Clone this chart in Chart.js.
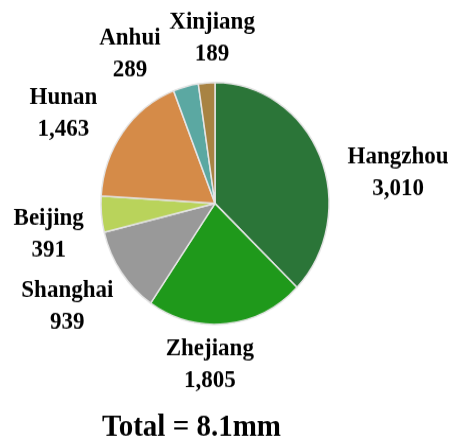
<!DOCTYPE html>
<html>
<head>
<meta charset="utf-8">
<title>Total = 8.1mm</title>
<script src="https://cdn.jsdelivr.net/npm/chart.js@4/dist/chart.umd.min.js"></script>
<style>
  html, body { margin: 0; padding: 0; background: #fff; }
  #box { width: 451px; height: 439px; position: relative; overflow: hidden; }
  #wrap { position: absolute; left: 0; top: 0; width: 451px; height: 414px; transform: scaleY(1.0604); transform-origin: 0 0; }
</style>
</head>
<body>
<!-- drawn at 414 high, shown a little taller like the original export -->
<div id="box"><div id="wrap"><canvas id="pie" width="451" height="414"></canvas></div></div>
<script>
// slices, clockwise from 12 o'clock
var regions = ['Hangzhou', 'Zhejiang', 'Shanghai', 'Beijing', 'Hunan', 'Anhui', 'Xinjiang'];
var values = [3010, 1805, 939, 391, 1463, 289, 189];
var colors = ['#2b7538', '#1f991b', '#999999', '#b9d35b', '#d58b48', '#5ba8a2', '#a88343'];
var totalLabel = 'Total = 8.1mm';

var fmt = function (v) { return v.toLocaleString('en-US'); };

// name + value above/beside each slice
var sliceLabels = {
    id: 'sliceLabels',
    afterDatasetsDraw: function (chart, args, opts) {
        var ctx = chart.ctx;
        var meta = chart.getDatasetMeta(0);
        ctx.save();
        ctx.font = opts.font;
        ctx.fillStyle = opts.color;
        ctx.textAlign = 'center';
        ctx.textBaseline = 'middle';
        meta.data.forEach(function (arc, i) {
            var p = arc.getProps(['x', 'y', 'startAngle', 'endAngle', 'outerRadius'], true);
            var mid = (p.startAngle + p.endAngle) / 2;
            var d = p.outerRadius + opts.distance;
            var n = opts.nudge[i] || [0, 0];
            var cx = p.x + Math.cos(mid) * d + n[0];
            var cy = p.y + Math.sin(mid) * d + n[1];
            ctx.fillText(regions[i], cx, cy - opts.lineHeight / 2);
            ctx.fillText(fmt(values[i]), cx, cy + opts.lineHeight / 2);
        });
        ctx.restore();
    }
};

var ctx = document.getElementById('pie');
var myChart = new Chart(ctx, {
    type: 'pie',
    data: {
        labels: regions,
        datasets: [{
            data: values,
            backgroundColor: colors,
            borderColor: '#e4e4e4',
            borderWidth: 1.5,
            radius: 114,
            clip: false
        }]
    },
    options: {
        responsive: false,
        animation: false,
        layout: {
            padding: { left: 102, right: 123, top: 5, bottom: 0 }
        },
        plugins: {
            legend: { display: false },
            tooltip: { enabled: false },
            title: {
                display: true,
                text: totalLabel,
                position: 'bottom',
                align: 'start',
                color: '#000',
                font: { family: '"Liberation Serif", "Times New Roman", serif', size: 29, weight: 'bold', lineHeight: 0.7 },
                padding: { top: 15, bottom: 0 }
            },
            sliceLabels: {
                font: 'bold 23px "Liberation Serif", "Times New Roman", serif',
                color: '#000',
                distance: 62,
                lineHeight: 30,
                nudge: [[21, 39.6], [-23, -23], [-3, -3], [9, 14], [-9.5, 19.5], [-40, 29], [10, 19.5]]
            }
        }
    },
    plugins: [sliceLabels]
});
</script>
</body>
</html>
